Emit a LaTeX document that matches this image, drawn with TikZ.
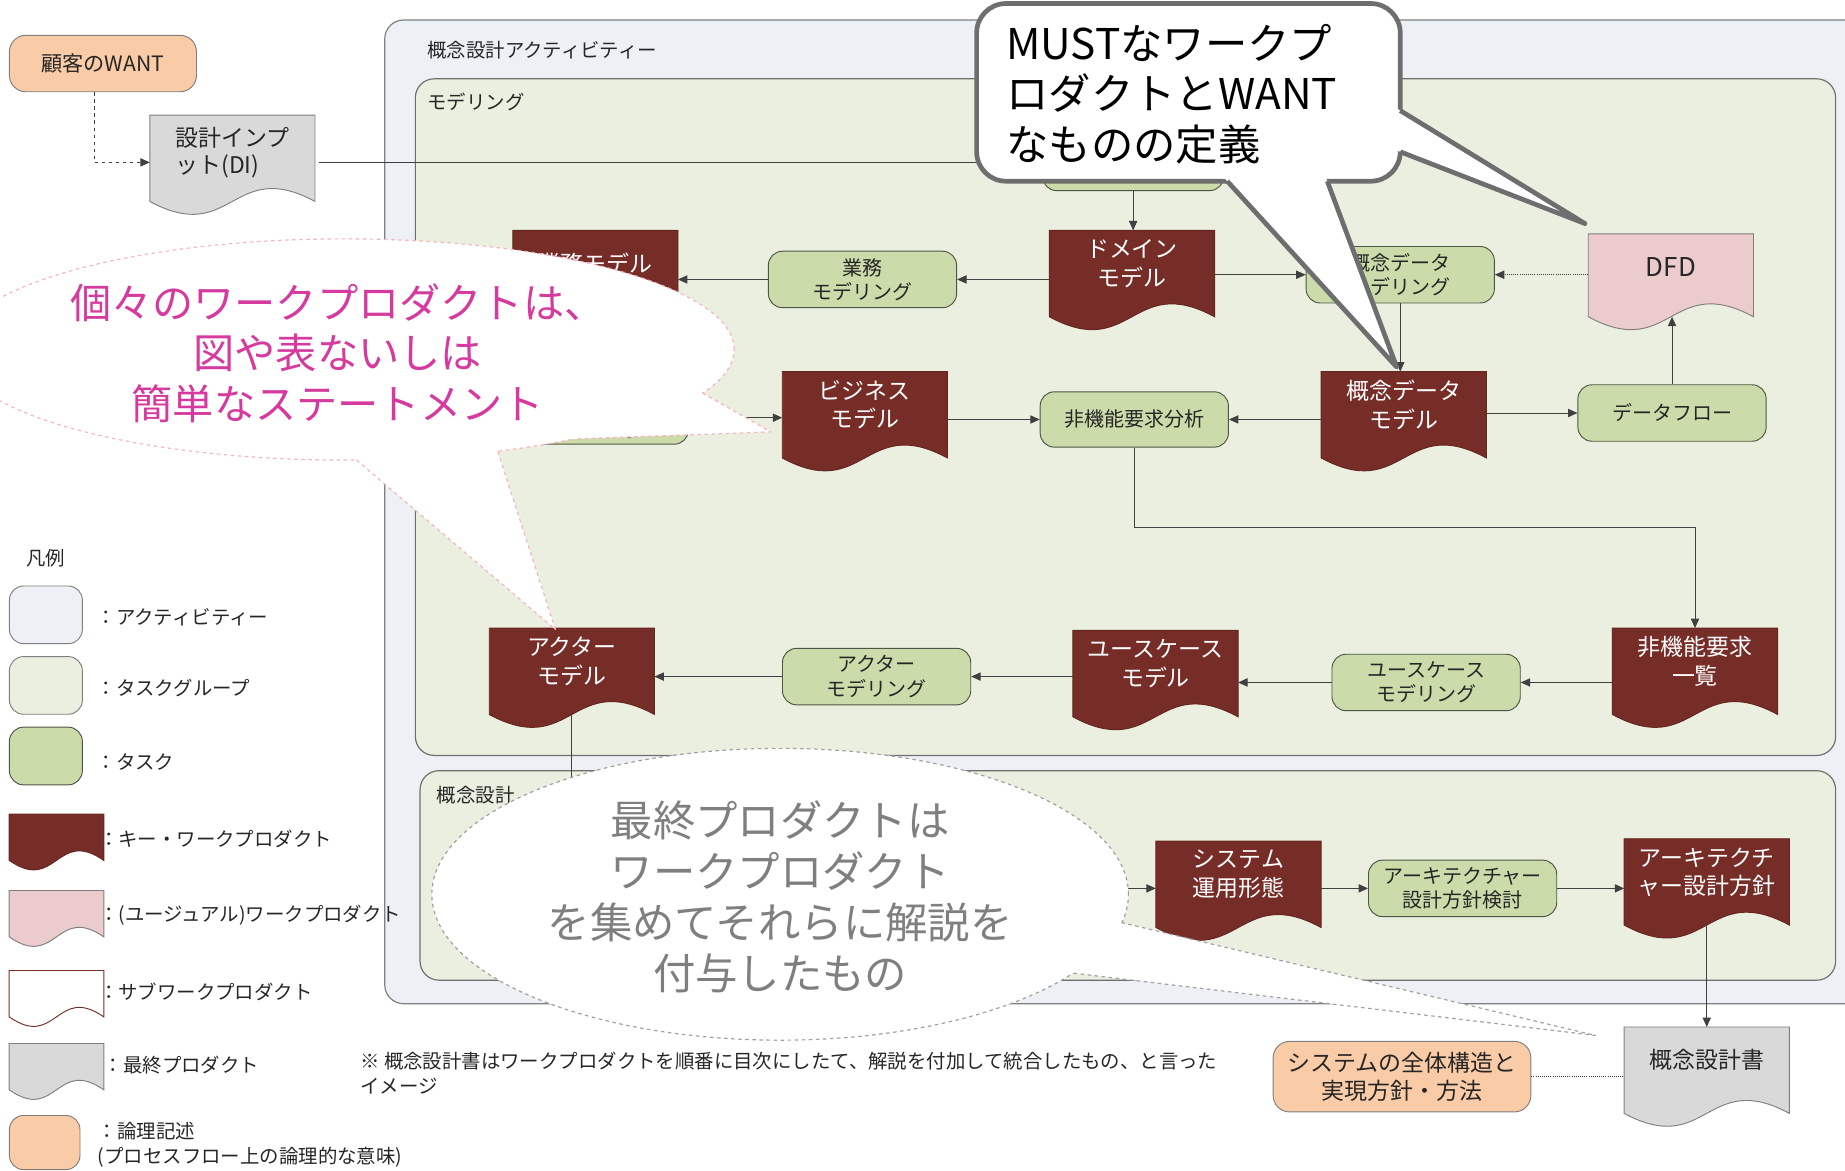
\documentclass[tikz,border=0pt]{standalone}
\usepackage{fontspec}
\setmainfont{Noto Sans CJK JP}
\usetikzlibrary{arrows.meta,calc}
\definecolor{actfill}{HTML}{EDF0F5}
\definecolor{grpfill}{HTML}{EBEFDF}
\definecolor{taskfill}{HTML}{CCDBAA}
\definecolor{kwpfill}{HTML}{772D27}
\definecolor{uwpfill}{HTML}{EBCBCB}
\definecolor{finfill}{HTML}{D9D9D9}
\definecolor{logfill}{HTML}{F9CBA7}
\definecolor{bordergray}{HTML}{7F7F7F}
\definecolor{grpborder}{HTML}{6F6F6F}
\definecolor{taskborder}{HTML}{4F5545}
\definecolor{pinktext}{HTML}{D63A9E}
\definecolor{pinkline}{HTML}{F5B5C0}
\definecolor{greyline}{HTML}{A0A0A0}
\definecolor{greytext}{HTML}{7F7F7F}
\definecolor{mustline}{HTML}{6E6E6E}
\definecolor{lineclr}{HTML}{404040}
\definecolor{textclr}{HTML}{262626}
\pgfdeclarelayer{groups}
\pgfdeclarelayer{docs}
\pgfsetlayers{groups,docs,main}
% document shape behind a named node: name, fill, draw, side extension, wave depth
\newcommand\docshape[5]{%
  \begin{pgfonlayer}{docs}
  \path[fill=#2,draw=#3,line width=0.8pt]
   (#1.north west) -- (#1.north east) -- ([yshift={-(#4)*1pt}]#1.south east)
   .. controls ([yshift={(#5-#4)*1pt}]#1.south) and ([yshift={(-#5-#4)*1pt}]#1.south)
   .. ([yshift={-(#4)*1pt}]#1.south west) -- cycle;
  \end{pgfonlayer}}
\begin{document}
\begin{tikzpicture}[x=1pt,y=-1pt,line join=round,
  arr/.style={draw=lineclr,line width=0.8pt,-{Triangle[length=8pt,width=7pt]}},
  plainline/.style={draw=lineclr,line width=0.8pt},
  tasknode/.style={draw=taskborder,fill=taskfill,line width=0.8pt,rounded corners=12pt,minimum width=160pt,minimum height=48pt,inner sep=0pt,align=center,text=textclr,font=\fontsize{17}{20.5}\selectfont},
  kwpnode/.style={minimum width=140pt,minimum height=56pt,inner sep=0pt,align=center,text=white,font=\fontsize{19.5}{24}\selectfont},
  legbox/.style={draw=bordergray,line width=0.8pt,rounded corners=12pt,minimum width=62pt,minimum height=49pt,inner sep=0pt},
  legdoc/.style={minimum width=80pt,minimum height=30pt,inner sep=0pt},
  legtext/.style={anchor=west,inner sep=0pt,text=textclr,font=\fontsize{16.5}{21}\selectfont,align=left},
  labeltext/.style={anchor=west,inner sep=0pt,text=textclr,font=\fontsize{16.5}{20}\selectfont},
]
\useasboundingbox (0,0) rectangle (1568,995);
\clip (0,0) rectangle (1568,995);

% ---------- containers ----------
\begin{pgfonlayer}{groups}
\begin{scope}
\clip (0,0) rectangle (1568,995);
\draw[draw=bordergray,fill=actfill,line width=1pt,rounded corners=16pt] (327,17) rectangle (1640,853);
\draw[draw=grpborder,fill=grpfill,line width=1pt,rounded corners=16pt] (353,67) rectangle (1560,642);
\draw[draw=grpborder,fill=grpfill,line width=1pt,rounded corners=16pt] (357,655) rectangle (1560,833);
\end{scope}
\end{pgfonlayer}
\node[labeltext] (lblact) at (363,43) {概念設計アクティビティー};
\node[labeltext] (lblmod) at (363,87) {モデリング};
\node[labeltext] (lblcd) at (371,676) {概念設計};

% ---------- top-left ----------
\node[draw=bordergray,fill=logfill,line width=0.8pt,rounded corners=14pt,minimum width=159pt,minimum height=48pt,inner sep=0pt,text=textclr,font=\fontsize{18}{22}\selectfont] (want) at (87.5,54) {顧客のWANT};
\node[kwpnode,text=textclr,align=left,minimum height=64pt,font=\fontsize{19.5}{23}\selectfont] (di) at (197.5,130) {設計インプ\\ット(DI)};
\docshape{di}{finfill}{bordergray}{9}{38}

% ---------- modeling: tasks ----------
\node[tasknode,minimum width=154pt] (ht) at (963,138) {};
\node[tasknode] (bmod) at (733,237.5) {業務\\モデリング};
\node[tasknode] (cdmod) at (1190,233.5) {概念データ\\モデリング};
\node[tasknode,minimum height=45pt] (bizmod) at (505,355) {ビジネス\\モデリング};
\node[tasknode,minimum height=47pt] (nfa) at (964,356.5) {非機能要求分析};
\node[tasknode] (df) at (1421,351) {データフロー};
\node[tasknode] (ucmod) at (1212,580) {ユースケース\\モデリング};
\node[tasknode] (actmod) at (745,575) {アクター\\モデリング};
\node[tasknode] (archt) at (1243,755) {アーキテクチャー\\設計方針検討};

% ---------- work products ----------
\node[kwpnode] (bm) at (506,224) {業務モデル};
\docshape{bm}{kwpfill}{kwpfill!85!black}{17}{38}
\node[kwpnode] (dm) at (962,224) {ドメイン\\モデル};
\docshape{dm}{kwpfill}{kwpfill!85!black}{17}{38}
\node[kwpnode,text=textclr,font=\fontsize{22}{26}\selectfont] (dfd) at (1420,227) {DFD};
\docshape{dfd}{uwpfill}{bordergray}{14}{38}
\node[kwpnode] (bizm) at (735,344) {ビジネス\\モデル};
\docshape{bizm}{kwpfill}{kwpfill!85!black}{17}{38}
\node[kwpnode] (cdm) at (1193,344) {概念データ\\モデル};
\docshape{cdm}{kwpfill}{kwpfill!85!black}{17}{38}
\node[kwpnode] (nfl) at (1440.5,562) {非機能要求\\一覧};
\docshape{nfl}{kwpfill}{kwpfill!85!black}{17}{38}
\node[kwpnode] (ucm) at (982,564) {ユースケース\\モデル};
\docshape{ucm}{kwpfill}{kwpfill!85!black}{17}{38}
\node[kwpnode] (actm) at (486,562) {アクター\\モデル};
\docshape{actm}{kwpfill}{kwpfill!85!black}{17}{38}
\node[kwpnode] (sys) at (1052.5,743) {システム\\運用形態};
\docshape{sys}{kwpfill}{kwpfill!85!black}{17}{38}
\node[kwpnode] (arch) at (1450.5,741) {アーキテクチ\\ャー設計方針};
\docshape{arch}{kwpfill}{kwpfill!85!black}{17}{38}
\node[kwpnode,text=textclr] (final) at (1450.5,901) {概念設計書};
\docshape{final}{finfill}{bordergray}{17}{38}
\node[draw=bordergray,fill=logfill,line width=0.8pt,rounded corners=14pt,minimum width=219pt,minimum height=60pt,inner sep=0pt,align=center,text=textclr,font=\fontsize{19.5}{24}\selectfont] (sysl) at (1191.5,915) {システムの全体構造と\\実現方針・方法};

% ---------- connectors ----------
\draw[arr,dashed] ([xshift=-7.5pt]want.south) |- (di.west |- ht.west);
\draw[arr] ([xshift=3pt]di.east |- ht.west) -- (ht.west);
\draw[arr] (ht.south) -- (ht.south |- dm.north);
\draw[arr] (dm.west |- bmod.east) -- (bmod.east);
\draw[arr] (bmod.west) -- (bm.east |- bmod.west);
\draw[arr] (dm.east |- cdmod.west) -- (cdmod.west);
\draw[arr,densely dotted] (dfd.west |- cdmod.east) -- (cdmod.east);
\draw[arr] (cdmod.south) -- (cdmod.south |- cdm.north);
\coordinate (dfdb) at ($(dfd.south)+(0,14)$);
\draw[arr] (df.north) -- (df.north |- dfdb);
\draw[arr] (cdm.east |- df.west) -- (df.west);
\draw[arr] (cdm.west |- nfa.east) -- (nfa.east);
\draw[arr] (bizm.east |- nfa.west) -- (nfa.west);
\draw[arr] (bizmod.east) -- (bizm.west |- bizmod.east);
\draw[arr] (nfa.south) -- ++(0,68) -| (nfl.north);
\draw[arr] (nfl.west |- ucmod.east) -- (ucmod.east);
\draw[arr] (ucmod.west) -- (ucm.east |- ucmod.west);
\draw[arr] (ucm.west |- actmod.east) -- (actmod.east);
\draw[arr] (actmod.west) -- (actm.east |- actmod.west);
\coordinate (actmb) at ($(actm.south)+(0,17)$);
\coordinate (hidA) at (486,720);
\draw[plainline] (actmb) -- (hidA);
\coordinate (hidB) at (900,755);
\draw[arr] (hidB) -- (sys.west |- hidB);
\draw[arr] (sys.east |- archt.west) -- (archt.west);
\draw[arr] (archt.east) -- (arch.west |- archt.east);
\coordinate (archb) at ($(arch.south)+(0,17)$);
\draw[arr] (archb) -- (archb |- final.north);
\draw[plainline,densely dotted] (sysl.east) -- (final.west |- sysl.east);

% ---------- legend ----------
\node[labeltext] (lgtitle) at (22,474) {凡例};
\node[legbox,fill=actfill] (lgact) at (39,522.5) {};
\node[legtext] (lgactt) at (82,525) {：アクティビティー};
\node[legbox,fill=grpfill] (lggrp) at (39,582.5) {};
\node[legtext] (lggrpt) at (82,585) {：タスクグループ};
\node[legbox,fill=taskfill,draw=taskborder] (lgtask) at (39,642.5) {};
\node[legtext] (lgtaskt) at (82,648) {：タスク};
\node[legdoc] (lgkwp) at (48,707) {};
\docshape{lgkwp}{kwpfill}{kwpfill!85!black}{9}{28}
\node[legtext] (lgkwpt) at (84,713) {：キー・ワークプロダクト};
\node[legdoc] (lguwp) at (48,772) {};
\docshape{lguwp}{uwpfill}{bordergray}{9}{28}
\node[legtext] (lguwpt) at (84,778) {：(ユージュアル)ワークプロダクト};
\node[legdoc] (lgswp) at (48,840) {};
\docshape{lgswp}{white}{kwpfill}{9}{28}
\node[legtext] (lgswpt) at (84,843) {：サブワークプロダクト};
\node[legdoc] (lgfin) at (48,902) {};
\docshape{lgfin}{finfill}{bordergray}{9}{28}
\node[legtext] (lgfint) at (88,905) {：最終プロダクト};
\node[legbox,fill=logfill,minimum width=60pt,minimum height=46pt] (lglog) at (38,971) {};
\node[legtext] (lglogt) at (83,973) {：論理記述\\(プロセスフロー上の論理的な意味)};

\node[legtext] (note) at (306,912) {※ 概念設計書はワークプロダクトを順番に目次にしたて、解説を付加して統合したもの、と言った\\イメージ};

% ---------- pink callout ----------
\coordinate (pc) at (293,297);
\coordinate (T1) at (655,367); \coordinate (A1) at (597,334); \coordinate (B1) at (490,373);
\coordinate (T2) at (472,535); \coordinate (A2) at (303,391); \coordinate (B2) at (423,383.5);
\draw[pinkline,dashed,line width=1pt,fill=white] (pc) ellipse [x radius=331pt, y radius=94pt];
\fill[white] (T1) -- ($(A1)!-0.15!(T1)$) -- ($(B1)!-0.15!(T1)$) -- cycle;
\fill[white] (T2) -- ($(A2)!-0.1!(T2)$) -- ($(B2)!-0.1!(T2)$) -- cycle;
\draw[pinkline,dashed,line width=1pt] (A1) -- (T1) -- (B1);
\draw[pinkline,dashed,line width=1pt] (A2) -- (T2) -- (B2);
\node[align=center,text=pinktext,font=\fontsize{35}{43}\selectfont] (pinkt) at (287,300) {個々のワークプロダクトは、\\図や表ないしは\\簡単なステートメント};

% ---------- grey callout ----------
\coordinate (gc) at (663,760);
\coordinate (T3) at (1356,880); \coordinate (A3) at (953,784); \coordinate (B3) at (912,827);
\draw[greyline,dashed,line width=1pt,fill=white] (gc) ellipse [x radius=296pt, y radius=124pt];
\fill[white] (T3) -- ($(A3)!-0.08!(T3)$) -- ($(B3)!-0.08!(T3)$) -- cycle;
\draw[greyline,dashed,line width=1pt] (A3) -- (T3) -- (B3);
\node[align=center,text=greytext,font=\fontsize{36}{43.5}\selectfont] (greyt) at (663,762) {最終プロダクトは\\ワークプロダクト\\を集めてそれらに解説を\\付与したもの};

% ---------- MUST callout ----------
\coordinate (T4) at (1187,312); \coordinate (A4) at (1043,154); \coordinate (B4) at (1128,154);
\coordinate (T5) at (1347,190); \coordinate (A5) at (1190,94); \coordinate (B5) at (1190,129);
\draw[mustline,line width=4pt,fill=white,rounded corners=25pt] (830,3) rectangle (1190,154);
\fill[white] (T4) -- ($(A4)!-0.08!(T4)$) -- ($(B4)!-0.08!(T4)$) -- cycle;
\fill[white] (T5) -- ($(A5)!-0.1!(T5)$) -- ($(B5)!-0.1!(T5)$) -- cycle;
\draw[mustline,line width=4pt] (A4) -- (T4) -- (B4);
\draw[mustline,line width=4pt] (A5) -- (T5) -- (B5);
\node[anchor=west,align=left,inner sep=0pt,text=black,font=\fontsize{36}{43}\selectfont] (mustt) at (855,80) {MUSTなワークプ\\ロダクトとWANT\\なものの定義};
\end{tikzpicture}
\end{document}
